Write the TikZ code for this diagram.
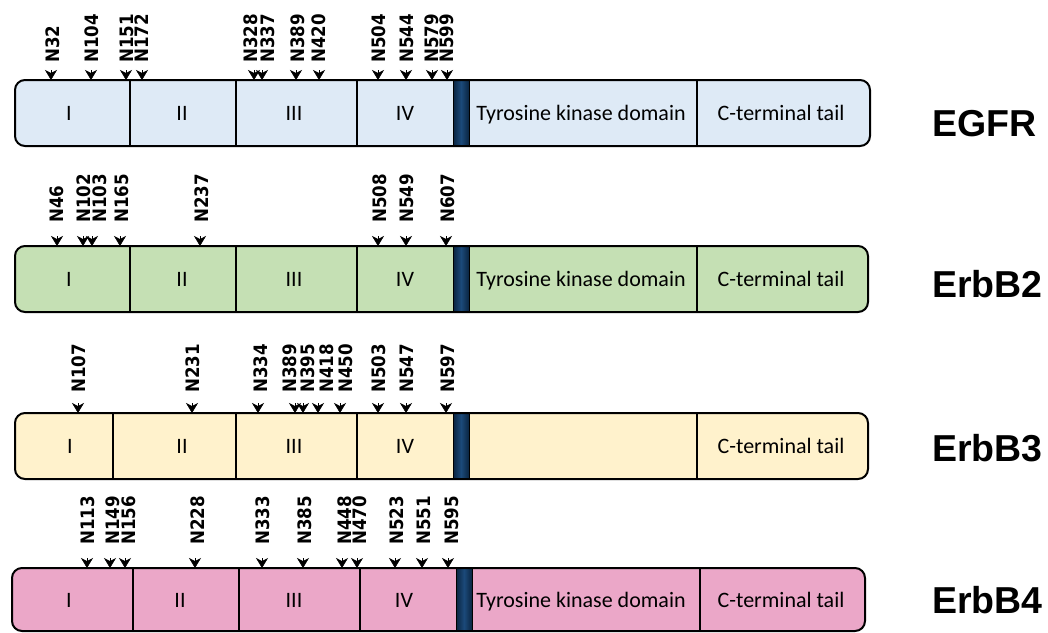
\documentclass[tikz,border=0pt]{standalone}
\usepackage{fontspec}
\setmainfont{Carlito}
\newfontfamily\arialfont{Liberation Sans}
\newfontfamily\sitefont[FakeStretch=0.9]{DejaVu Sans}
\usetikzlibrary{arrows.meta}
\definecolor{egfrc}{HTML}{DEEAF6}
\definecolor{erbbtwo}{HTML}{C5E0B4}
\definecolor{erbbthree}{HTML}{FFF2CC}
\definecolor{erbbfour}{HTML}{EBA7C8}
\definecolor{tmdark}{HTML}{0A2440}
\definecolor{tmmid}{HTML}{1B4A7A}
\tikzset{
 bar/.style={draw=black, line width=2pt, rounded corners=10pt},
 divline/.style={draw=black, line width=1.5pt},
 domlab/.style={font=\fontsize{22}{22}\selectfont, inner sep=0pt, anchor=base},
 sitelab/.style={rotate=90, anchor=west, inner sep=0pt, font=\sitefont\bfseries\fontsize{18.5}{18.5}\selectfont},
 sitearrow/.style={-{Stealth[length=10pt,width=12pt,inset=3pt]}, line width=0.5pt},
 protlab/.style={font=\arialfont\bfseries\fontsize{37.5}{37.5}\selectfont, anchor=base west, inner sep=0pt},
 tmbox/.style={draw=black, line width=0.6pt},
}
\begin{document}
\begin{tikzpicture}[x=1pt,y=-1pt]
\useasboundingbox (0,0) rectangle (1048,632);

% ---------------- EGFR ----------------
\fill[egfrc, rounded corners=10pt] (15,80) rectangle (870,146);
\foreach \d in {130,236,357,697} \draw[divline] (\d,80) -- (\d,146);
\shade[left color=tmdark, right color=tmdark, middle color=tmmid] (453,80) rectangle (469,146);
\draw[tmbox] (453,80) rectangle (469,146);
\draw[bar] (15,80) rectangle (870,146);
\node[domlab] (e-I) at (69,120) {I};
\node[domlab] (e-II) at (182,120) {II};
\node[domlab] (e-III) at (294,120) {III};
\node[domlab] (e-IV) at (405,120) {IV};
\node[domlab] (e-TK) at (581,120) {Tyrosine kinase domain};
\node[domlab] (e-CT) at (781,120) {C-terminal tail};
\node[protlab] (egfr) at (932,136) {EGFR};
\foreach \lab/\ax/\lx in {N32/51/53, N104/91/92, N151/126/127, N172/142/142, N328/254/251, N337/262/268, N389/296/298, N420/319/319, N504/378/379, N544/406/407, N579/432/432, N599/447/447}{
  \node[sitelab] (e-\lab) at (\lx,63) {\lab};
  \coordinate (e-\lab-t) at (\ax,80);
  \coordinate (e-\lab-s) at (\ax,70);
  \draw[sitearrow] (e-\lab-s) -- (e-\lab-t);
}

% ---------------- ErbB2 ----------------
\fill[erbbtwo, rounded corners=10pt] (15,246) rectangle (868,312);
\foreach \d in {130,236,357,697} \draw[divline] (\d,246) -- (\d,312);
\shade[left color=tmdark, right color=tmdark, middle color=tmmid] (453,246) rectangle (469,312);
\draw[tmbox] (453,246) rectangle (469,312);
\draw[bar] (15,246) rectangle (868,312);
\node[domlab] (b2-I) at (69,286) {I};
\node[domlab] (b2-II) at (182,286) {II};
\node[domlab] (b2-III) at (294,286) {III};
\node[domlab] (b2-IV) at (405,286) {IV};
\node[domlab] (b2-TK) at (581,286) {Tyrosine kinase domain};
\node[domlab] (b2-CT) at (781,286) {C-terminal tail};
\node[protlab] (erbb2) at (932,297) {ErbB2};
\foreach \lab/\ax/\lx in {N46/57/57, N102/83/84, N103/92/100, N165/120/122, N237/200/202, N508/378/380, N549/406/407, N607/446/448}{
  \node[sitelab] (b2-\lab) at (\lx,223) {\lab};
  \coordinate (b2-\lab-t) at (\ax,246);
  \coordinate (b2-\lab-s) at (\ax,236);
  \draw[sitearrow] (b2-\lab-s) -- (b2-\lab-t);
}

% ---------------- ErbB3 ----------------
\fill[erbbthree, rounded corners=10pt] (15,413) rectangle (868,479);
\foreach \d in {113,236,357,697} \draw[divline] (\d,413) -- (\d,479);
\shade[left color=tmdark, right color=tmdark, middle color=tmmid] (453,413) rectangle (469,479);
\draw[tmbox] (453,413) rectangle (469,479);
\draw[bar] (15,413) rectangle (868,479);
\node[domlab] (b3-I) at (70,453) {I};
\node[domlab] (b3-II) at (182,453) {II};
\node[domlab] (b3-III) at (294,453) {III};
\node[domlab] (b3-IV) at (405,453) {IV};
\node[domlab] (b3-CT) at (781,453) {C-terminal tail};
\node[protlab] (erbb3) at (932,461) {ErbB3};
\foreach \lab/\ax/\lx in {N107/78/79, N231/192/193, N334/258/261, N389/295/290, N395/303/308, N418/318/327, N450/340/346, N503/378/379, N547/406/407, N597/446/448}{
  \node[sitelab] (b3-\lab) at (\lx,393) {\lab};
  \coordinate (b3-\lab-t) at (\ax,413);
  \coordinate (b3-\lab-s) at (\ax,403);
  \draw[sitearrow] (b3-\lab-s) -- (b3-\lab-t);
}

% ---------------- ErbB4 ----------------
\fill[erbbfour, rounded corners=10pt] (12,568) rectangle (865,631);
\foreach \d in {133,239,360,700} \draw[divline] (\d,568) -- (\d,631);
\shade[left color=tmdark, right color=tmdark, middle color=tmmid] (456,568) rectangle (472,631);
\draw[tmbox] (456,568) rectangle (472,631);
\draw[bar] (12,568) rectangle (865,631);
\node[domlab] (b4-I) at (69,607) {I};
\node[domlab] (b4-II) at (180,607) {II};
\node[domlab] (b4-III) at (294,607) {III};
\node[domlab] (b4-IV) at (404,607) {IV};
\node[domlab] (b4-TK) at (581,607) {Tyrosine kinase domain};
\node[domlab] (b4-CT) at (781,607) {C-terminal tail};
\node[protlab] (erbb4) at (932,613) {ErbB4};
\foreach \lab/\ax/\lx in {N113/87/88, N149/110/113, N156/125/129, N228/195/198, N333/262/263, N385/303/305, N448/342/345, N470/357/360, N523/395/397, N551/422/424, N595/448/452}{
  \node[sitelab] (b4-\lab) at (\lx,545) {\lab};
  \coordinate (b4-\lab-t) at (\ax,568);
  \coordinate (b4-\lab-s) at (\ax,558);
  \draw[sitearrow] (b4-\lab-s) -- (b4-\lab-t);
}
\end{tikzpicture}
\end{document}
